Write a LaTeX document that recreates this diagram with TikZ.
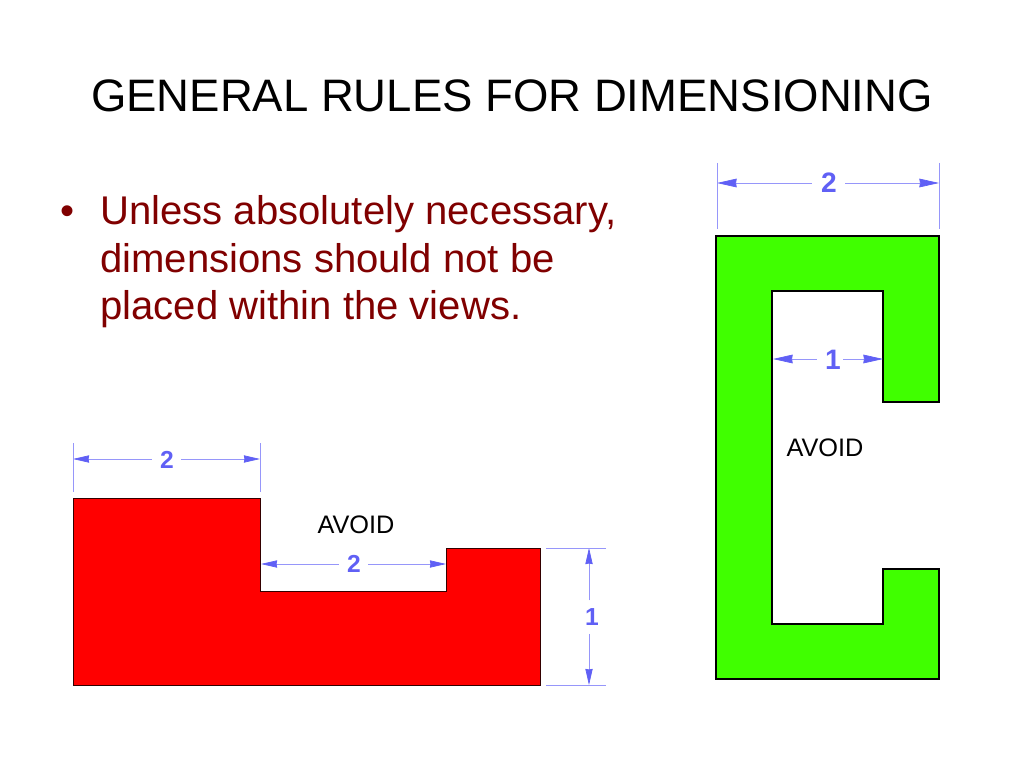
\documentclass[tikz,border=0pt]{standalone}
\usepackage{fontspec}
\setmainfont{Liberation Sans}
\usetikzlibrary{arrows.meta}
\definecolor{dimblue}{RGB}{96,96,245}
\definecolor{dimline}{RGB}{150,150,250}
\definecolor{shapegreen}{RGB}{64,255,0}
\definecolor{bodyred}{RGB}{128,0,0}
\tikzset{
	dimnum/.style={text=dimblue,inner sep=0pt,font=\fontsize{17.5}{17.5}\bfseries\selectfont},
	dimnumbig/.style={text=dimblue,inner sep=0pt,font=\fontsize{20}{20}\bfseries\selectfont},
	dimarrow/.style={draw=dimline,line width=0.5pt,-{Stealth[dimblue,length=11.5pt,width=5.2pt,inset=0.5pt]}},
	dimarrowbig/.style={draw=dimline,line width=0.5pt,-{Stealth[dimblue,length=14pt,width=6.2pt,inset=0.5pt]}},
	dimext/.style={draw=dimline,line width=0.5pt},
	redline/.style={draw=black!80!red,line width=0.6pt,line join=miter},
	greenline/.style={draw=black,line width=1.1pt,line join=miter},
	bodytext/.style={text=bodyred,anchor=base west,inner sep=0pt,font=\fontsize{28.5}{28.5}\selectfont},
	avoidtext/.style={text=black,inner sep=0pt,font=\fontsize{18}{18}\selectfont}
}
\begin{document}
\begin{tikzpicture}[x=0.025cm,y=-0.025cm]
	\useasboundingbox (0,0) rectangle (1024,768);
	% title and bullet text
	\node[anchor=base,inner sep=0pt,font=\fontsize{32.35}{32.35}\selectfont] (title) at (512,112) {GENERAL RULES FOR DIMENSIONING};
	\node[bodytext] (bullet) at (60,224) {•};
	\node[bodytext] (lineone) at (100,224) {Unless absolutely necessary,};
	\node[bodytext] (linetwo) at (100,272) {dimensions should not be};
	\node[bodytext] (linethree) at (100,319) {placed within the views.};
	% draw red part
	\filldraw[fill=red,redline] (73,498) -- (260,498) -- (260,591) -- (446,591) -- (446,548) -- (540,548) -- (540,685) -- (73,685) -- cycle;
	% draw green part
	\filldraw[fill=shapegreen,greenline] (716,236) -- (939,236) -- (939,402) -- (883,402) -- (883,291) -- (772,291) -- (772,624) -- (883,624) -- (883,569) -- (939,569) -- (939,679) -- (716,679) -- cycle;
	\node[avoidtext] (avoidred) at (356,525) {AVOID};
	\node[avoidtext] (avoidgreen) at (825,448) {AVOID};
	% dimension numbers
	\node[dimnumbig] (greentop) at (829,183) {2};
	\node[dimnumbig] (greenin) at (833,360) {1};
	\node[dimnum] (redtop) at (167,460) {2};
	\node[dimnum] (redin) at (354,564) {2};
	\node[dimnum] (redside) at (592,617) {1};
	% dimension end points
	\coordinate (gtl) at (717,183);
	\coordinate (gtr) at (939,183);
	\coordinate (gil) at (773,359);
	\coordinate (gir) at (883,359);
	\coordinate (rtl) at (73,459);
	\coordinate (rtr) at (260,459);
	\coordinate (ril) at (261,564);
	\coordinate (rir) at (446,564);
	\coordinate (rst) at (589,548);
	\coordinate (rsb) at (589,685);
	% dimension arrows
	\draw[dimarrowbig] (greentop.west) ++(-9,0) -- (gtl);
	\draw[dimarrowbig] (greentop.east) ++(8,0) -- (gtr);
	\draw[dimarrowbig] (greenin.west) ++(-8,-1) -- (gil);
	\draw[dimarrowbig] (greenin.east) ++(2,-1) -- (gir);
	\draw[dimarrow] (redtop.west) ++(-8,-1) -- (rtl);
	\draw[dimarrow] (redtop.east) ++(7,-1) -- (rtr);
	\draw[dimarrow] (redin.west) ++(-8,0) -- (ril);
	\draw[dimarrow] (redin.east) ++(7,0) -- (rir);
	\draw[dimarrow] (redside.north) ++(-3,-8) -- (rst);
	\draw[dimarrow] (redside.south) ++(-3,8) -- (rsb);
	% extension lines
	\foreach \x in {717,939}
	\draw[dimext] (\x,163) -- (\x,229);
	\foreach \x in {73,260}
	\draw[dimext] (\x,443) -- (\x,492);
	\foreach \y in {548,685}
	\draw[dimext] (546,\y) -- (606,\y);
\end{tikzpicture}
\end{document}
